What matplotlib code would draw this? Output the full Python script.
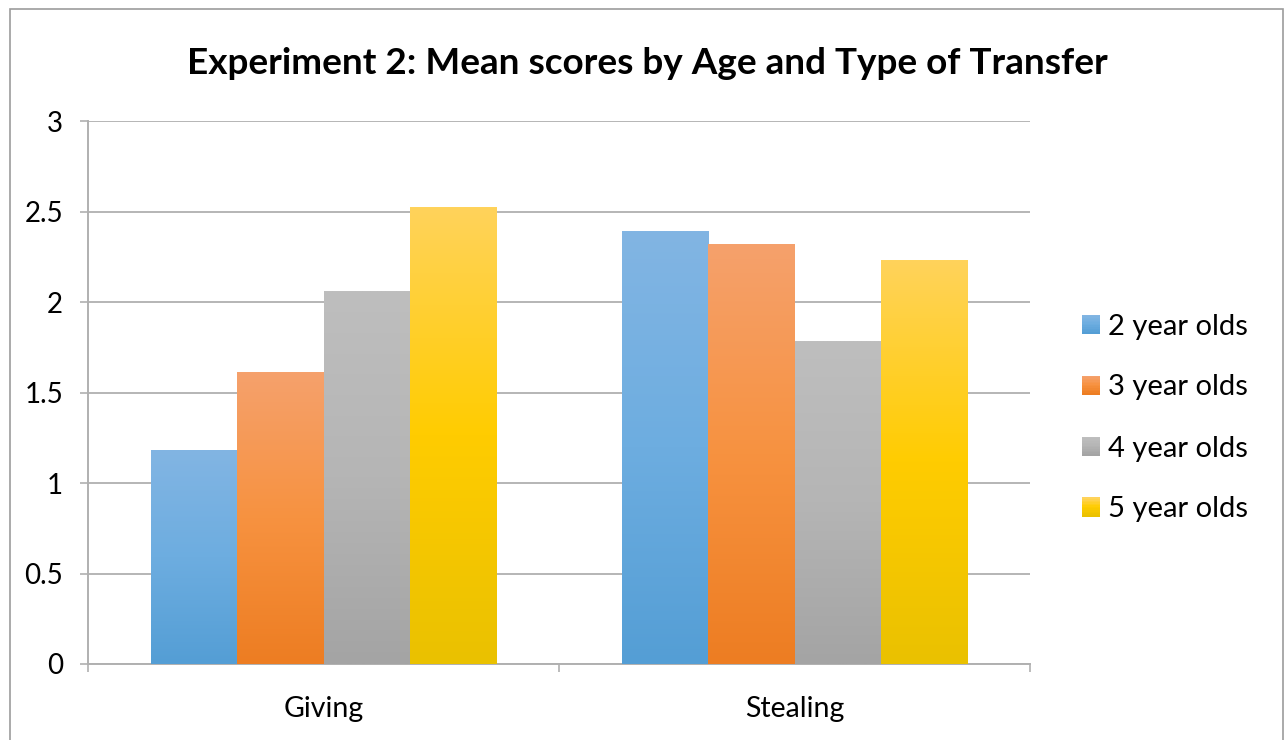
import numpy as np
import matplotlib
matplotlib.use("Agg")
import matplotlib.pyplot as plt
from matplotlib.colors import LinearSegmentedColormap
from matplotlib.patches import Rectangle
from matplotlib.legend_handler import HandlerBase

plt.rcParams['font.family'] = ['Lato', 'DejaVu Sans']

# data
categories = ['Giving', 'Stealing']
series = ['2 year olds', '3 year olds', '4 year olds', '5 year olds']
giving = [1.18, 1.61, 2.06, 2.52]
stealing = [2.39, 2.32, 1.78, 2.23]
values = np.array([giving, stealing])

# top / middle / bottom of the gradient for each series
grad_colors = [
    ['#82B5E3', '#6DADE0', '#549ED5'],
    ['#F5A16C', '#F79240', '#ED7D22'],
    ['#BEBEBE', '#B5B5B5', '#A4A4A4'],
    ['#FFD35B', '#FFCC00', '#EAC100'],
]
cmaps = [LinearSegmentedColormap.from_list('g%d' % i, c) for i, c in enumerate(grad_colors)]
grad = np.linspace(0, 1, 256).reshape(-1, 1)

fig = plt.figure(figsize=(12.84, 7.4), dpi=100)
ax = fig.add_axes([88/1284, 1-664/740, (1030-88)/1284, (664-121)/740])

x = np.arange(len(categories))
w = 0.1826
for i in range(len(series)):
    pos = x + (i - 1.5) * w
    bars = ax.bar(pos, values[:, i], width=w, color='none', linewidth=0, zorder=3)
    for p in bars.patches:
        x0, h = p.get_x(), p.get_height()
        ax.imshow(grad, extent=[x0, x0 + p.get_width(), 0, h], origin='upper',
                  aspect='auto', cmap=cmaps[i], interpolation='bilinear', zorder=3)

ax.set_xlim(-0.5, 1.5)
ax.set_ylim(0, 3)
ax.set_yticks(np.arange(0, 3.01, 0.5))
ax.set_yticklabels(['0', '0.5', '1', '1.5', '2', '2.5', '3'])
ax.set_xticks(x)
ax.set_xticklabels(categories)
ax.set_xticks([-0.5, 0.5, 1.5], minor=True)
ax.tick_params(axis='x', which='major', length=0, pad=23, labelsize=20.5)
ax.tick_params(axis='x', which='minor', length=6, width=1.2, color='#B0B0B0', direction='out')
ax.tick_params(axis='y', length=6, width=1.2, color='#B0B0B0', pad=12, labelsize=20)

ax.grid(axis='y', color='#B5B5B5', linewidth=1.4, zorder=0)
ax.set_axisbelow(True)
for s in ['top', 'right']:
    ax.spines[s].set_visible(False)
for s in ['left', 'bottom']:
    ax.spines[s].set_color('#B0B0B0')
    ax.spines[s].set_linewidth(1.4)


class GradientHandler(HandlerBase):
    def __init__(self, cols):
        super().__init__()
        self.cols = cols

    def create_artists(self, legend, orig_handle, xdescent, ydescent, width, height, fontsize, trans):
        cm = LinearSegmentedColormap.from_list('h', self.cols)
        n = 12
        arts = []
        side = 13.5
        y0 = -ydescent + (height - side) / 2
        for k in range(n):
            r = Rectangle((-xdescent, y0 + side * (n - 1 - k) / n), side, side / n + 0.3,
                          facecolor=cm(k / (n - 1)), edgecolor='none', transform=trans)
            arts.append(r)
        return arts


handles = [Rectangle((0, 0), 1, 1) for _ in series]
hmap = {h: GradientHandler(c) for h, c in zip(handles, grad_colors)}
fig.legend(handles, series, handler_map=hmap, loc='center left',
           bbox_to_anchor=(1067/1284, 1-418/740), frameon=False, fontsize=21,
           handlelength=0.643, handleheight=0.7, handletextpad=0.25, labelspacing=1.2,
           borderpad=0)

fig.text(647/1284, 1-63/740, 'Experiment 2: Mean scores by Age and Type of Transfer',
         ha='center', va='center', fontsize=26.6, fontweight='bold')

fig.patches.append(Rectangle((10/1284, -0.1), (1283-10)/1284, 1.1 - 9/740,
                             transform=fig.transFigure, fill=False,
                             edgecolor='#9C9C9C', linewidth=1.2))

fig.savefig('out.png', dpi=100, facecolor='white')
